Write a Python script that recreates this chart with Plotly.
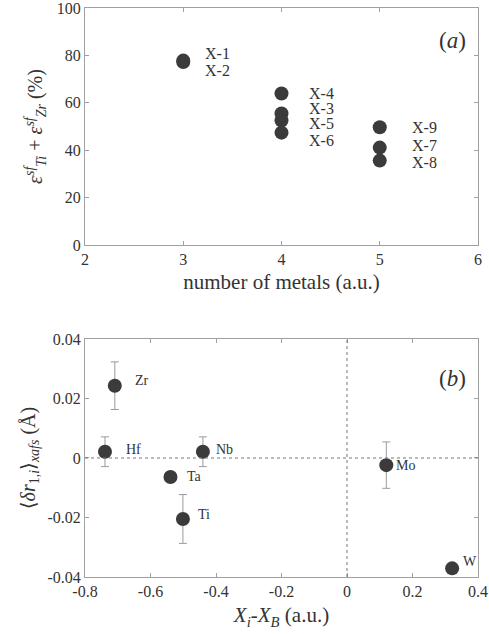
import plotly.graph_objects as go
from plotly.subplots import make_subplots

# Panel (a): strain fraction vs number of metals
alloys = ["X-1", "X-2", "X-3", "X-4", "X-5", "X-6", "X-7", "X-8", "X-9"]
n_metals = [3, 3, 4, 4, 4, 4, 5, 5, 5]
strain_sum = [77.8, 77.2, 55.5, 63.9, 52.5, 47.4, 41.1, 35.6, 49.7]

# Panel (b): mean first-shell distortion vs electronegativity difference
elements = ["Zr", "Hf", "Nb", "Ta", "Ti", "Mo", "W"]
x_diff = [-0.709, -0.739, -0.44, -0.539, -0.501, 0.12, 0.321]
dr_xafs = [0.0243, 0.0021, 0.0021, -0.0064, -0.0205, -0.0024, -0.0371]
dr_err = [0.0080, 0.0050, 0.0050, 0.0, 0.0082, 0.0078, 0.0]

FONT = "Liberation Serif, Times New Roman, DejaVu Serif, serif"
MARK = "#3b3b3b"
FRAME = "#a0a0a0"
TXT = "#333333"

# label offsets in pixels (dx, dy) so neighbouring names don't collide
label_shift_a = {"X-1": (20, 7), "X-2": (20, -8), "X-4": (25, 0), "X-3": (25, 5),
                 "X-5": (25, -3), "X-6": (25, -8), "X-9": (30, 0), "X-7": (30, 2),
                 "X-8": (30, -2)}
label_shift_b = {"Zr": (18, 5), "Hf": (19, 2), "Nb": (11, 2), "Ta": (15, 1),
                 "Ti": (13, 4), "Mo": (8, 0), "W": (9, 7)}

fig = make_subplots(rows=2, cols=1)

fig.add_trace(go.Scatter(
    x=n_metals, y=strain_sum, mode="markers",
    marker=dict(size=14, color=MARK, line=dict(width=0)),
    showlegend=False), row=1, col=1)

fig.add_trace(go.Scatter(
    x=x_diff, y=dr_xafs, mode="markers",
    marker=dict(size=14, color=MARK, line=dict(width=0)),
    error_y=dict(type="data", array=dr_err, visible=True, color="#9a9a9a",
                 thickness=1, width=4),
    showlegend=False), row=2, col=1)

for name, xv, yv in zip(alloys, n_metals, strain_sum):
    dx, dy = label_shift_a[name]
    fig.add_annotation(x=xv, y=yv, xref="x", yref="y", text=name, showarrow=False,
                       xanchor="left", yanchor="middle", xshift=dx, yshift=dy,
                       font=dict(family=FONT, size=16, color=TXT))

for name, xv, yv in zip(elements, x_diff, dr_xafs):
    dx, dy = label_shift_b[name]
    fig.add_annotation(x=xv, y=yv, xref="x2", yref="y2", text=name, showarrow=False,
                       xanchor="left", yanchor="middle", xshift=dx, yshift=dy,
                       font=dict(family=FONT, size=14, color=TXT))

# reference lines through the origin of panel (b)
fig.add_shape(type="line", xref="x2", yref="y2", x0=-0.8, x1=0.4, y0=0, y1=0,
              line=dict(color="#777777", width=1, dash="dot"))
fig.add_shape(type="line", xref="x2", yref="y2", x0=0, x1=0, y0=-0.04, y1=0.04,
              line=dict(color="#777777", width=1, dash="dot"))

fig.add_annotation(x=0.975, y=0.925, xref="x domain", yref="y domain",
                   text="(<i>a</i>)", showarrow=False, xanchor="right",
                   font=dict(family=FONT, size=23, color=TXT))
fig.add_annotation(x=0.975, y=0.895, xref="x2 domain", yref="y2 domain",
                   text="(<i>b</i>)", showarrow=False, xanchor="right",
                   font=dict(family=FONT, size=23, color=TXT))

axis_style = dict(showline=True, linecolor=FRAME, linewidth=1, mirror="ticks",
                  ticks="inside", ticklen=4, tickcolor=FRAME, showgrid=False,
                  zeroline=False, automargin=False, ticklabeloverflow="allow",
                  tickfont=dict(family=FONT, size=16, color=TXT))

fig.update_xaxes(**axis_style)
fig.update_yaxes(**axis_style)

fig.update_xaxes(range=[2, 6], tickvals=[2, 3, 4, 5, 6], domain=[0, 1],
                 title=dict(text="number of metals (a.u.)", standoff=7,
                            font=dict(family=FONT, size=21, color=TXT)),
                 row=1, col=1)
fig.update_yaxes(range=[0, 100], tickvals=[0, 20, 40, 60, 80, 100], domain=[0.5835, 1],
                 title=dict(text="<i>ε</i><sup><i>sf</i></sup><sub><i>Ti</i></sub> + "
                                 "<i>ε</i><sup><i>sf</i></sup><sub><i>Zr</i></sub> (%)",
                            standoff=8, font=dict(family=FONT, size=20, color=TXT)),
                 row=1, col=1)

fig.update_xaxes(range=[-0.8, 0.4], tickvals=[-0.8, -0.6, -0.4, -0.2, 0, 0.2, 0.4],
                 ticktext=["-0.8", "-0.6", "-0.4", "-0.2", "0", "0.2", "0.4"],
                 title=dict(text="<i>X<sub>i</sub></i>-<i>X<sub>B</sub></i> (a.u.)",
                            standoff=8, font=dict(family=FONT, size=21, color=TXT)),
                 row=2, col=1)
fig.update_yaxes(range=[-0.04, 0.04], tickvals=[-0.04, -0.02, 0, 0.02, 0.04],
                 ticktext=["-0.04", "-0.02", "0", "0.02", "0.04"], domain=[0, 0.4183],
                 title=dict(text="⟨<i>δr</i><sub>1,<i>i</i></sub>⟩<sub><i>xafs</i></sub> (Å)",
                            standoff=6, font=dict(family=FONT, size=20, color=TXT)),
                 row=2, col=1)

fig.update_layout(width=489, height=634, margin=dict(l=85, r=11, t=8, b=57),
                  plot_bgcolor="white", paper_bgcolor="white",
                  font=dict(family=FONT, color=TXT))

fig.write_html("out.html")
